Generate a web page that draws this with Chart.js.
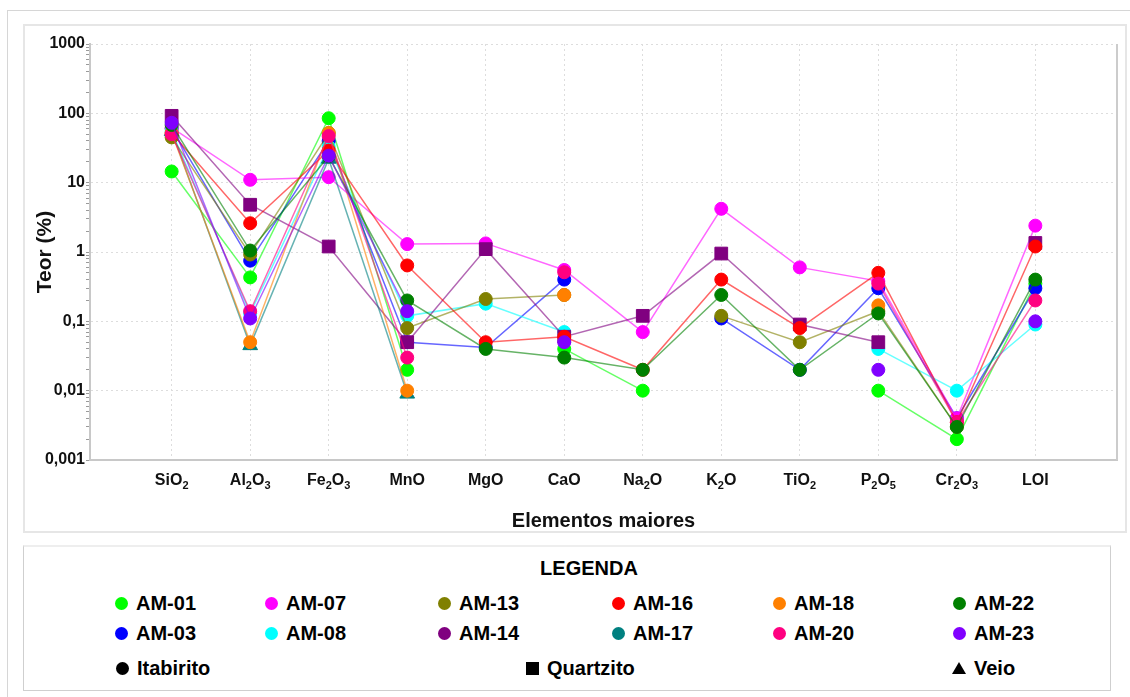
<!DOCTYPE html>
<html>
<head>
<meta charset="utf-8">
<script src="https://cdn.jsdelivr.net/npm/chart.js@4.4.1/dist/chart.umd.min.js"></script>
<style>
  html, body { margin: 0; padding: 0; background: #fff; width: 1130px; height: 697px; overflow: hidden;
    font-family: "Liberation Sans", Arial, sans-serif; }
  #frame { position: absolute; left: 7px; top: 10px; width: 1140px; height: 700px;
    border-left: 1px solid #d6d6d6; border-top: 1px solid #d6d6d6; }
  #panel { position: absolute; left: 23px; top: 24px; width: 1104px; height: 509px; box-sizing: border-box;
    border: 2px solid #e6e6e6; }
  #chartBox { position: absolute; left: 23px; top: 24px; width: 1104px; height: 509px; }
  #legend { position: absolute; left: 23px; top: 545px; width: 1088px; height: 146px; box-sizing: border-box;
    border: 1px solid #cfcfcf; border-top: 2px solid #eeeeee; }
  .lg-title { position: absolute; top: 557px; left: 489px; width: 200px; text-align: center;
    font: bold 20px "Liberation Sans", Arial, sans-serif; line-height: 22px; color: #000; }
  .lg-item { position: absolute; height: 22px; font: bold 20px "Liberation Sans", Arial, sans-serif;
    line-height: 22px; color: #000; white-space: nowrap; }
  .lg-dot { position: absolute; width: 13px; height: 13px; border-radius: 50%; }
  .lg-sq { position: absolute; width: 13px; height: 13px; background: #000; }
  .lg-tri { position: absolute; width: 0; height: 0; border-left: 7px solid transparent;
    border-right: 7px solid transparent; border-bottom: 12px solid #000; }
</style>
</head>
<body>
<div id="frame"></div>
<div id="panel"></div>
<div id="chartBox"><canvas id="chart"></canvas></div>
<div id="legend"></div>
<div class="lg-title">LEGENDA</div>
<div id="legendItems"></div>

<script>
// Major oxides (digits are drawn as subscripts)
const categories = ['SiO2', 'Al2O3', 'Fe2O3', 'MnO', 'MgO', 'CaO', 'Na2O', 'K2O', 'TiO2', 'P2O5', 'Cr2O3', 'LOI'];

// Y axis decades and their labels (Portuguese decimal comma)
const yTickValues = [0.001, 0.01, 0.1, 1, 10, 100, 1000];
const yTickLabels = ['0,001', '0,01', '0,1', '1', '10', '100', '1000'];

// Contents (%) per sample, in category order; null = not plotted
const am01 = [14.5, 0.43, 85, 0.02, null, 0.04, 0.01, null, null, 0.01, 0.002, 0.35];
const am03 = [60, 0.75, 40, 0.05, 0.042, 0.4, null, 0.11, 0.02, 0.3, 0.004, 0.3];
const am07 = [62, 11, 12, 1.3, 1.33, 0.55, 0.07, 4.2, 0.6, 0.38, 0.004, 2.4];
const am08 = [55, 0.13, 33, 0.12, 0.18, 0.07, null, null, null, 0.04, 0.01, 0.09];
const am13 = [45, 0.92, 52, 0.08, 0.21, 0.24, null, 0.12, 0.05, 0.14, 0.003, null];
const am14 = [92, 4.8, 1.2, 0.05, 1.1, 0.06, 0.12, 0.95, 0.09, 0.05, null, 1.35];
const am16 = [52, 2.6, 29, 0.64, 0.05, 0.06, 0.02, 0.4, 0.08, 0.5, 0.0035, 1.2];
const am17 = [55, 0.045, 22, 0.009, null, null, null, null, null, null, null, null];
const am18 = [52, 0.05, 52, 0.01, null, 0.24, null, null, null, 0.17, null, null];
const am20 = [50, 0.14, 47, 0.03, null, 0.51, null, null, null, 0.35, 0.0035, 0.2];
const am22 = [68, 1.05, 24, 0.2, 0.04, 0.03, 0.02, 0.24, 0.02, 0.13, 0.003, 0.4];
const am23 = [73, 0.11, 24.5, 0.14, null, 0.05, null, null, null, 0.02, null, 0.1];

// Sample names, colours and rock types (Itabirito = circle, Quartzito = square, Veio = triangle)
const sampleNames = ['AM-01', 'AM-03', 'AM-07', 'AM-08', 'AM-13', 'AM-14', 'AM-16', 'AM-17', 'AM-18', 'AM-20', 'AM-22', 'AM-23'];
const sampleValues = [am01, am03, am07, am08, am13, am14, am16, am17, am18, am20, am22, am23];
const sampleColors = ['#00ff00', '#0000ff', '#ff00ff', '#00ffff', '#808000', '#800080', '#ff0000', '#008080', '#ff8000', '#ff0080', '#008000', '#8000ff'];
const sampleRock = ['Itabirito', 'Itabirito', 'Itabirito', 'Itabirito', 'Itabirito', 'Quartzito', 'Itabirito', 'Veio', 'Itabirito', 'Itabirito', 'Itabirito', 'Itabirito'];
const rockTypes = ['Itabirito', 'Quartzito', 'Veio'];

const FONT = '"Liberation Sans", Arial, sans-serif';

function withAlpha(hex, a) {
  const n = parseInt(hex.slice(1), 16);
  return `rgba(${(n >> 16) & 255},${(n >> 8) & 255},${n & 255},${a})`;
}

const markerFor = { Itabirito: ['circle', 6.5], Quartzito: ['rect', 9], Veio: ['triangle', 8.5] };

const datasets = sampleNames.map((name, i) => {
  const [style, radius] = markerFor[sampleRock[i]];
  return {
    label: name,
    data: sampleValues[i].map((v, k) => ({ x: k + 1, y: v })),
    borderColor: withAlpha(sampleColors[i], 0.6),
    borderWidth: 1.5,
    backgroundColor: sampleColors[i],
    pointBackgroundColor: sampleColors[i],
    pointBorderColor: sampleColors[i],
    pointBorderWidth: 1,
    pointStyle: style,
    pointRadius: radius,
    pointHoverRadius: radius,
    tension: 0,
    spanGaps: false,
    order: sampleNames.length - i
  };
});

const isDecade = v => yTickValues.some(t => Math.abs(v - t) / t < 1e-6);

// Category labels with subscripted digits under the x axis
const oxideLabels = {
  id: 'oxideLabels',
  afterDraw(chart) {
    const ctx = chart.ctx;
    const xs = chart.scales.x;
    const base = chart.chartArea.bottom + 25;
    ctx.save();
    ctx.fillStyle = '#111';
    ctx.textBaseline = 'alphabetic';
    categories.forEach((name, i) => {
      const parts = name.match(/[^0-9]+|[0-9]+/g);
      const fontFor = p => /^[0-9]+$/.test(p) ? 'bold 11px ' + FONT : 'bold 16px ' + FONT;
      let w = 0;
      parts.forEach(p => { ctx.font = fontFor(p); w += ctx.measureText(p).width; });
      let x = xs.getPixelForValue(i + 1) - w / 2;
      parts.forEach(p => {
        const sub = /^[0-9]+$/.test(p);
        ctx.font = fontFor(p);
        ctx.fillText(p, x, sub ? base + 4 : base);
        x += ctx.measureText(p).width;
      });
    });
    // solid right edge of the plot
    const a = chart.chartArea;
    ctx.strokeStyle = '#cccccc';
    ctx.lineWidth = 2;
    ctx.beginPath();
    ctx.moveTo(a.right, a.top);
    ctx.lineTo(a.right, a.bottom);
    ctx.stroke();
    ctx.restore();
  }
};

new Chart(document.getElementById('chart'), {
  type: 'line',
  data: { datasets },
  plugins: [oxideLabels],
  options: {
    responsive: true,
    maintainAspectRatio: false,
    animation: false,
    layout: { padding: { left: 0, top: 20, right: 6, bottom: 0 } },
    plugins: { legend: { display: false }, tooltip: { enabled: false } },
    scales: {
      x: {
        type: 'linear',
        min: -0.04,
        max: categories.length + 1.04,
        afterBuildTicks: s => { s.ticks = categories.map((_, k) => ({ value: k + 1 })); },
        afterFit: s => { s.height = 73; },
        ticks: { display: false },
        grid: { color: '#dddddd', lineWidth: 1, drawTicks: false },
        border: { display: true, color: '#c8c8c8', width: 2, dash: [2, 3] },
        title: {
          display: true,
          text: 'Elementos maiores',
          color: '#111',
          font: { family: FONT, size: 20, weight: 'bold' },
          padding: { top: 10, bottom: 0 }
        }
      },
      y: {
        type: 'logarithmic',
        min: 0.001,
        max: 1000,
        afterBuildTicks: s => {
          const t = [];
          yTickValues.forEach((d, k) => {
            if (k === yTickValues.length - 1) { t.push({ value: d, major: true }); return; }
            for (let m = 1; m <= 9; m++) t.push({ value: parseFloat((m * d).toPrecision(3)), major: m === 1 });
          });
          s.ticks = t;
        },
        afterFit: s => { s.width = 67; },
        ticks: {
          autoSkip: false,
          padding: 1,
          color: '#111',
          font: { family: FONT, size: 16, weight: 'bold' },
          callback: v => {
            const k = yTickValues.findIndex(t => Math.abs(v - t) / t < 1e-6);
            return k >= 0 ? yTickLabels[k] : '';
          }
        },
        grid: {
          color: c => (c.tick && isDecade(c.tick.value)) ? '#dddddd' : 'rgba(0,0,0,0)',
          tickColor: '#9a9a9a',
          tickLength: 4,
          lineWidth: 1
        },
        border: { display: true, color: '#c8c8c8', width: 2, dash: [2, 3] },
        title: {
          display: true,
          text: 'Teor (%)',
          color: '#111',
          font: { family: FONT, size: 21, weight: 'bold' },
          padding: { top: 9.4, bottom: 0 }
        }
      }
    }
  }
});

// Legend: samples in a 6 x 2 grid, then rock-type symbols
const legendCols = [121, 271, 444, 618, 779, 959];
const legendRows = [603, 633];
const holder = document.getElementById('legendItems');
sampleNames.forEach((name, i) => {
  const cx = legendCols[Math.floor(i / 2)];
  const cy = legendRows[i % 2];
  const dot = document.createElement('div');
  dot.className = 'lg-dot';
  dot.style.left = (cx - 6.5) + 'px';
  dot.style.top = (cy - 6.5) + 'px';
  dot.style.background = sampleColors[i];
  holder.appendChild(dot);
  const txt = document.createElement('div');
  txt.className = 'lg-item';
  txt.style.left = (cx + 15) + 'px';
  txt.style.top = (cy - 11) + 'px';
  txt.textContent = name;
  holder.appendChild(txt);
});
const rockX = [122, 532, 959];
const rockY = 668;
rockTypes.forEach((r, i) => {
  const m = document.createElement('div');
  if (r === 'Itabirito') { m.className = 'lg-dot'; m.style.background = '#000'; m.style.left = (rockX[i] - 6.5) + 'px'; m.style.top = (rockY - 6.5) + 'px'; }
  else if (r === 'Quartzito') { m.className = 'lg-sq'; m.style.left = (rockX[i] - 6.5) + 'px'; m.style.top = (rockY - 6.5) + 'px'; }
  else { m.className = 'lg-tri'; m.style.left = (rockX[i] - 7) + 'px'; m.style.top = (rockY - 6) + 'px'; }
  holder.appendChild(m);
  const txt = document.createElement('div');
  txt.className = 'lg-item';
  txt.style.left = (rockX[i] + 15) + 'px';
  txt.style.top = (rockY - 11) + 'px';
  txt.textContent = r;
  holder.appendChild(txt);
});
</script>
</body>
</html>
